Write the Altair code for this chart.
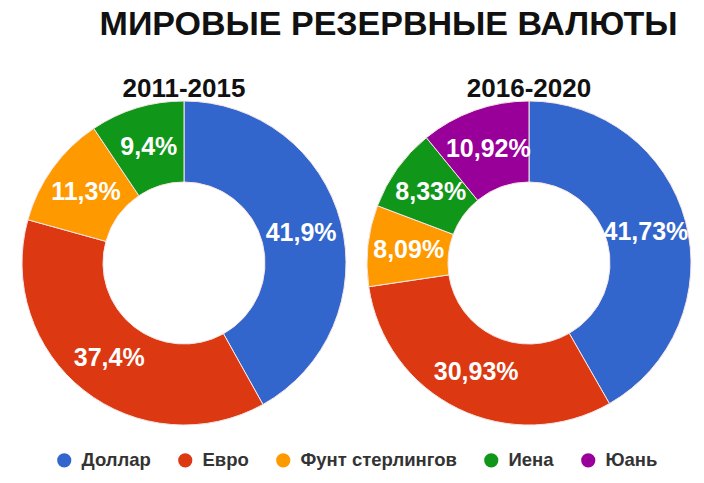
import altair as alt
import pandas as pd

currencies = ["Доллар", "Евро", "Фунт стерлингов", "Иена", "Юань"]
colors = ["#3366CC", "#DC3912", "#FF9900", "#109618", "#990099"]

p1_names = ["Доллар", "Евро", "Фунт стерлингов", "Иена"]
p1_values = [41.9, 37.4, 11.3, 9.4]
p2_names = ["Доллар", "Евро", "Фунт стерлингов", "Иена", "Юань"]
p2_values = [41.73, 30.93, 8.09, 8.33, 10.92]


def make_df(names, values):
    return pd.DataFrame({
        "currency": names,
        "value": values,
        "order": [currencies.index(n) for n in names],
        "label": [str(v).replace(".", ",") + "%" for v in values],
    })


color_scale = alt.Scale(domain=currencies, range=colors)


def donut(df, title):
    base = alt.Chart(df).encode(
        theta=alt.Theta("value:Q", stack=True),
        order=alt.Order("order:O", sort="ascending"),
    )
    arc = base.mark_arc(innerRadius=81, outerRadius=162, stroke="#f6e6e6", strokeWidth=1).encode(
        color=alt.Color("currency:N", scale=color_scale,
                        legend=alt.Legend(title=None, orient="none", direction="horizontal",
                                          legendX=33, legendY=350, values=currencies)),
    )
    text = base.mark_text(radius=121, font="Liberation Sans", fontWeight="bold",
                          fontSize=25, color="white").encode(text="label:N")
    return (arc + text).properties(
        width=324, height=324,
        title=alt.TitleParams(title, fontSize=26, font="Liberation Sans", fontWeight="bold",
                              color="#111111", offset=-3),
    )


left = donut(make_df(p1_names, p1_values), "2011-2015")
right = donut(make_df(p2_names, p2_values), "2016-2020")

chart = alt.hconcat(left, right, spacing=17).properties(
    title=alt.TitleParams("МИРОВЫЕ РЕЗЕРВНЫЕ ВАЛЮТЫ", fontSize=34,
                          font="Liberation Sans", fontWeight="bold",
                          color="#111111", anchor="middle", dx=32, offset=34),
    padding={"left": 20, "top": 8, "right": 10, "bottom": 10},
).configure_view(stroke=None).configure_legend(
    symbolType="circle", symbolSize=200, labelFontSize=18.5, labelFont="Liberation Sans",
    labelFontWeight="bold", labelColor="#333333", columnPadding=25, labelOffset=8,
    symbolStrokeWidth=0,
)

chart.save("out.html", embed_options={"renderer": "svg", "actions": False})
